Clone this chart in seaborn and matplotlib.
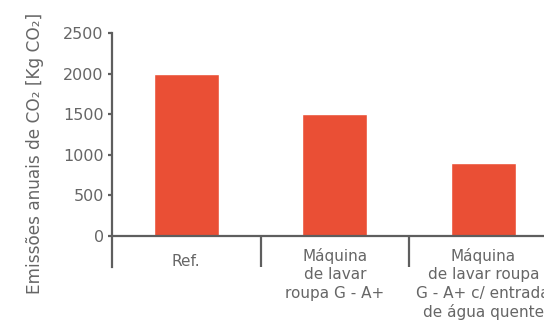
import matplotlib
matplotlib.use("Agg")
import matplotlib.pyplot as plt
import seaborn as sns
import pandas as pd

categories = [
    "Ref.",
    "Máquina\nde lavar\nroupa G - A+",
    "Máquina\nde lavar roupa\nG - A+ c/ entrada\nde água quente",
]
emissions = [2000, 1500, 900]
y_ticks = [0, 500, 1000, 1500, 2000, 2500]
y_label = "Emissões anuais de CO₂ [Kg CO₂]"

bar_color = "#EA4F35"
axis_color = "#5E5E5E"
text_color = "#666666"

sns.set_theme(style="white")
plt.rcParams["font.family"] = ["DejaVu Sans"]

df = pd.DataFrame({"cat": categories, "val": emissions})

fig = plt.figure(figsize=(5.44, 3.31), dpi=100)
ax = fig.add_axes([112 / 544, 64 / 331, 1 - 112 / 544, 234 / 331])

sns.barplot(data=df, x="cat", y="val", color=bar_color, width=0.44,
            saturation=1, ax=ax)

ax.set_xlim(-0.5, -0.5 + 432 / 148.5)
ax.set_ylim(-383, 2500)

for side in ["top", "right", "bottom"]:
    ax.spines[side].set_visible(False)
ax.spines["left"].set_color(axis_color)
ax.spines["left"].set_linewidth(1.6)

# baseline and category separators
ax.axhline(0, color=axis_color, linewidth=1.6, zorder=3)
for x in [0.5, 1.5]:
    ax.plot([x, x], [-383, 0], color=axis_color, linewidth=1.6,
            solid_capstyle="butt", zorder=3)

ax.set_xticks([])
ax.set_xlabel("")
ax.set_yticks(y_ticks)
ax.set_yticklabels([str(t) for t in y_ticks])
ax.tick_params(axis="y", left=True, length=3, width=1.6, color=axis_color,
               labelsize=11.5, labelcolor=text_color, pad=3)
ax.set_ylabel(y_label, fontsize=12.2, color=text_color)
ax.yaxis.set_label_coords(-0.157, 0.484)

# category names below the baseline
tops = [-222, -148, -148]
for i, (lab, yt) in enumerate(zip(categories, tops)):
    ax.text(i, yt, lab, ha="center", va="top", fontsize=11,
            color=text_color, linespacing=1.28, clip_on=False)

fig.savefig("out.png", dpi=100)
